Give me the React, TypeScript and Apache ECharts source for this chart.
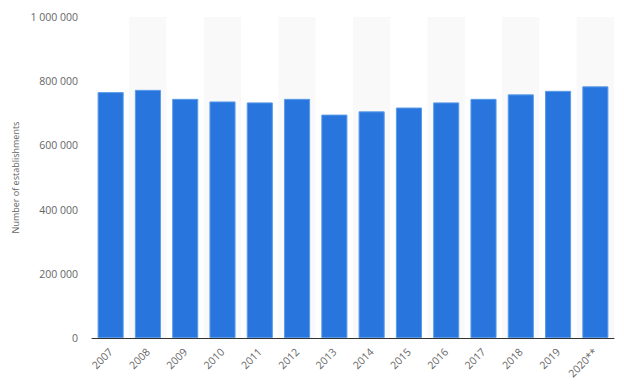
import React, { useEffect, useRef } from "react";
import * as echarts from "echarts";

const categories = ["2007", "2008", "2009", "2010", "2011", "2012", "2013", "2014", "2015", "2016", "2017", "2018", "2019", "2020**"];
const establishments = [766000, 773000, 745000, 737000, 734000, 745000, 696000, 706000, 718000, 734000, 745000, 759000, 770000, 784000];
const yTicks = [0, 200000, 400000, 600000, 800000, 1000000];

const fmt = (v: number) => String(v).replace(/\B(?=(\d{3})+(?!\d))/g, " ");

export default function App() {
  const ref = useRef<HTMLDivElement>(null);
  useEffect(() => {
    if (!ref.current) return;
    const chart = echarts.init(ref.current, null, { renderer: "svg" });
    chart.setOption({
      animation: false,
      backgroundColor: "#ffffff",
      grid: { left: 92, right: 10, top: 17, bottom: 53, containLabel: false },
      xAxis: {
        type: "category",
        data: categories,
        boundaryGap: true,
        axisLine: { show: true, lineStyle: { color: "#333333", width: 1 } },
        axisTick: { show: false },
        axisLabel: {
          rotate: 45,
          color: "#666666",
          fontSize: 10.5,
          fontFamily: "Open Sans",
          margin: 12,
          interval: 0,
        },
        splitArea: { show: true, areaStyle: { color: ["#ffffff", "#f9f9f9"] } },
      },
      yAxis: {
        type: "value",
        min: yTicks[0],
        max: yTicks[yTicks.length - 1],
        interval: 200000,
        name: "Number of establishments",
        nameLocation: "middle",
        nameGap: 71,
        nameTextStyle: { color: "#666666", fontSize: 9, fontFamily: "Open Sans" },
        axisLine: { show: false },
        axisTick: { show: false },
        axisLabel: {
          color: "#666666",
          fontSize: 10.5,
          fontFamily: "Open Sans",
          margin: 14,
          formatter: (v: number) => fmt(v),
        },
        splitLine: { show: true, lineStyle: { color: "#e3e3e3", type: "dotted", width: 1 } },
      },
      series: [
        {
          type: "bar",
          data: establishments,
          barWidth: "70%",
          itemStyle: { color: "#2876dd", borderColor: "#5b9be8", borderWidth: 1 },
        },
      ],
    });
    return () => chart.dispose();
  }, []);
  return <div ref={ref} style={{ width: 624, height: 391, position: "absolute", left: 0, top: 0 }} />;
}
